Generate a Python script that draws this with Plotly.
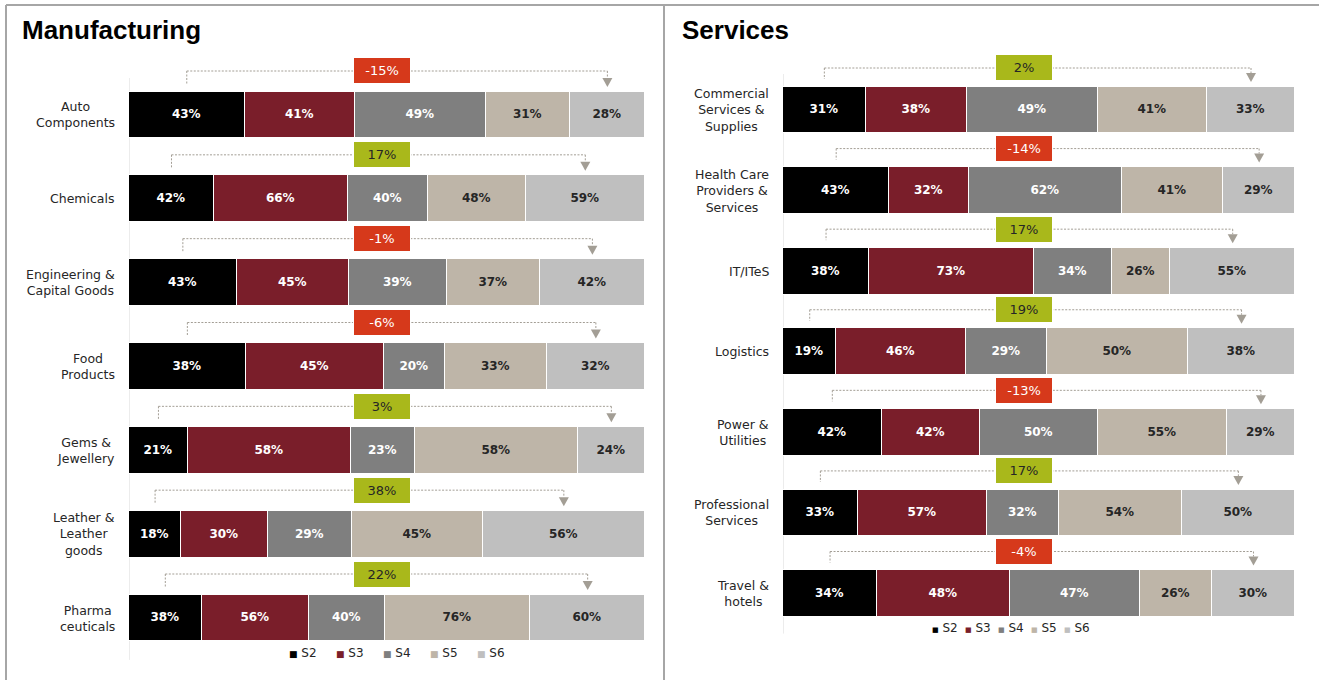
import plotly.graph_objects as go

# ---------------- data ----------------
series = ["S2", "S3", "S4", "S5", "S6"]
series_colors = ["#000000", "#7A1E2A", "#7F7F7F", "#BEB5A8", "#BFBFBF"]
label_colors = ["#FFFFFF", "#FFFFFF", "#FFFFFF", "#262626", "#262626"]

mfg_categories = ["Auto<br>Components", "Chemicals", "Engineering &<br>Capital Goods",
                  "Food<br>Products", "Gems &<br>Jewellery", "Leather &<br>Leather<br>goods",
                  "Pharma<br>ceuticals"]
mfg_s2 = [43, 42, 43, 38, 21, 18, 38]
mfg_s3 = [41, 66, 45, 45, 58, 30, 56]
mfg_s4 = [49, 40, 39, 20, 23, 29, 40]
mfg_s5 = [31, 48, 37, 33, 58, 45, 76]
mfg_s6 = [28, 59, 42, 32, 24, 56, 60]
mfg_change = ["-15%", "17%", "-1%", "-6%", "3%", "38%", "22%"]

svc_categories = ["Commercial<br>Services &<br>Supplies", "Health Care<br>Providers &<br>Services",
                  "IT/ITeS", "Logistics", "Power &<br>Utilities", "Professional<br>Services",
                  "Travel &<br>hotels"]
svc_s2 = [31, 43, 38, 19, 42, 33, 34]
svc_s3 = [38, 32, 73, 46, 42, 57, 48]
svc_s4 = [49, 62, 34, 29, 50, 32, 47]
svc_s5 = [41, 41, 26, 50, 55, 54, 26]
svc_s6 = [33, 29, 55, 38, 29, 50, 30]
svc_change = ["2%", "-14%", "17%", "19%", "-13%", "17%", "-4%"]

# ---------------- layout constants ----------------
W, H = 1319, 680
FONT = "DejaVu Sans"
NEG_COLOR = "#D6391B"
POS_COLOR = "#A9B81B"
DASH_COLOR = "#A39E95"
AXIS_COLOR = "#D9D9D9"
TOP_EXT = 62  # px of plot area kept above first bar centre


def px_x(p):
    return p / W


def px_y(p):
    return 1 - p / H


panels = [
    dict(title="Manufacturing", title_x=20, cats=mfg_categories,
         vals=[mfg_s2, mfg_s3, mfg_s4, mfg_s5, mfg_s6], change=mfg_change,
         xa="x", ya="y", x0=129, x1=645, c0=115, c1=618, bar_px=46.7,
         label_right=117, box_x=49, bracket=44, axis_top=37,
         legend_x=287, legend_dx=47, legend_y=653, legend_sq=9),
    dict(title="Services", title_x=680, cats=svc_categories,
         vals=[svc_s2, svc_s3, svc_s4, svc_s5, svc_s6], change=svc_change,
         xa="x2", ya="y2", x0=783, x1=1295, c0=110, c1=593.5, bar_px=46.7,
         label_right=771, box_x=47, bracket=42, axis_top=36,
         legend_x=930, legend_dx=33, legend_y=628, legend_sq=7),
]

fig = go.Figure()
shapes = []
annotations = []

for k, p in enumerate(panels):
    n = len(p["cats"])
    rows = list(range(n))
    step = (p["c1"] - p["c0"]) / (n - 1)
    bar_w = p["bar_px"] / step
    for s, name in enumerate(series):
        vals = p["vals"][s]
        fig.add_trace(go.Bar(
            x=vals, y=rows, orientation="h", name=name, width=bar_w,
            xaxis=p["xa"], yaxis=p["ya"],
            marker=dict(color=series_colors[s], line=dict(color="white", width=1.5)),
            text=[f"{v}%" for v in vals], texttemplate="%{text}",
            textposition="inside", insidetextanchor="middle", textangle=0,
            insidetextfont=dict(family=FONT, size=12, color=label_colors[s], weight="bold"),
            showlegend=False, hoverinfo="skip",
        ))

    sfx = "" if k == 0 else "2"
    ext = TOP_EXT / step
    top = p["c0"] - TOP_EXT
    bot = p["c1"] + step / 2
    fig.update_layout(**{
        f"xaxis{sfx}": dict(domain=[px_x(p["x0"]), px_x(p["x1"])], range=[0, 100],
                           visible=False, anchor=p["ya"], fixedrange=True),
        f"yaxis{sfx}": dict(domain=[px_y(bot), px_y(top)], range=[n - 0.5, -ext],
                           showline=False, showticklabels=False, showgrid=False,
                           zeroline=False, ticks="", anchor=p["xa"], fixedrange=True),
    })

    # vertical axis line
    shapes.append(dict(type="line", xref=p["xa"], yref=p["ya"], x0=0, x1=0,
                       y0=-p["axis_top"] / step, y1=n - 0.5, layer="below",
                       line=dict(color=AXIS_COLOR, width=1)))

    # category labels (centred multi-line text)
    for i, c in enumerate(p["cats"]):
        annotations.append(dict(
            text=c, xref="paper", x=px_x(p["label_right"]), xanchor="right",
            yref=p["ya"], y=i, yanchor="middle", align="center", showarrow=False,
            font=dict(family=FONT, size=12.5, color="#262626")))

    # brackets and change boxes
    s2 = p["vals"][0]
    s6 = p["vals"][-1]
    b = p["bracket"]
    for i in rows:
        total = sum(p["vals"][s][i] for s in range(len(series)))
        xa_ = s2[i] / 2 / total * 100
        xb_ = (total - s6[i] / 2) / total * 100
        common = dict(xref=p["xa"], yref=p["ya"], ysizemode="pixel", yanchor=i,
                      line=dict(color=DASH_COLOR, width=1, dash="2px,1.5px"))
        shapes.append(dict(type="line", x0=xa_, x1=xb_, y0=b, y1=b, **common))
        shapes.append(dict(type="line", x0=xa_, x1=xa_, y0=b, y1=31, **common))
        shapes.append(dict(type="line", x0=xb_, x1=xb_, y0=b, y1=37, **common))
        shapes.append(dict(type="path", xref=p["xa"], yref=p["ya"],
                           xsizemode="pixel", xanchor=xb_, ysizemode="pixel", yanchor=i,
                           path="M -5,37 L 5,37 L 0,28 Z", fillcolor=DASH_COLOR,
                           line=dict(width=0)))
        ch = p["change"][i]
        neg = ch.startswith("-")
        annotations.append(dict(
            text=ch, xref=p["xa"], x=p["box_x"], yref=p["ya"], y=i, yshift=b,
            showarrow=False, width=52, height=21, borderpad=2, borderwidth=1,
            bordercolor="#FFFFFF", bgcolor=NEG_COLOR if neg else POS_COLOR,
            font=dict(family=FONT, size=13, color="#FFFFFF" if neg else "#262626")))

    # title
    annotations.append(dict(
        text=f"<b>{p['title']}</b>", xref="paper", x=px_x(p["title_x"]), xanchor="left",
        yref="paper", y=px_y(30), yanchor="middle", showarrow=False,
        font=dict(family="Liberation Sans, Arial", size=26, color="#000000")))

    # legend
    for s, name in enumerate(series):
        annotations.append(dict(
            text=(f"<span style='color:{series_colors[s]};font-size:{p['legend_sq']}px'>■</span>"
                  f" {name}"),
            xref="paper", x=px_x(p["legend_x"] + s * p["legend_dx"]), xanchor="left",
            yref="paper", y=px_y(p["legend_y"]), yanchor="middle", showarrow=False,
            font=dict(family=FONT, size=12, color="#262626")))

# frame lines
frame = dict(xref="paper", yref="paper", line=dict(color="#A6A6A6", width=2))
shapes.append(dict(type="line", x0=px_x(6), x1=1, y0=px_y(5), y1=px_y(5), **frame))
shapes.append(dict(type="line", x0=px_x(6), x1=px_x(6), y0=0, y1=px_y(5), **frame))
shapes.append(dict(type="line", x0=px_x(664), x1=px_x(664), y0=0, y1=px_y(5), **frame))

fig.update_layout(
    width=W, height=H, margin=dict(l=0, r=0, t=0, b=0),
    paper_bgcolor="white", plot_bgcolor="white",
    barmode="stack", barnorm="percent", bargap=0,
    shapes=shapes, annotations=annotations, showlegend=False,
    font=dict(family=FONT),
)

fig.write_html("out.html")
